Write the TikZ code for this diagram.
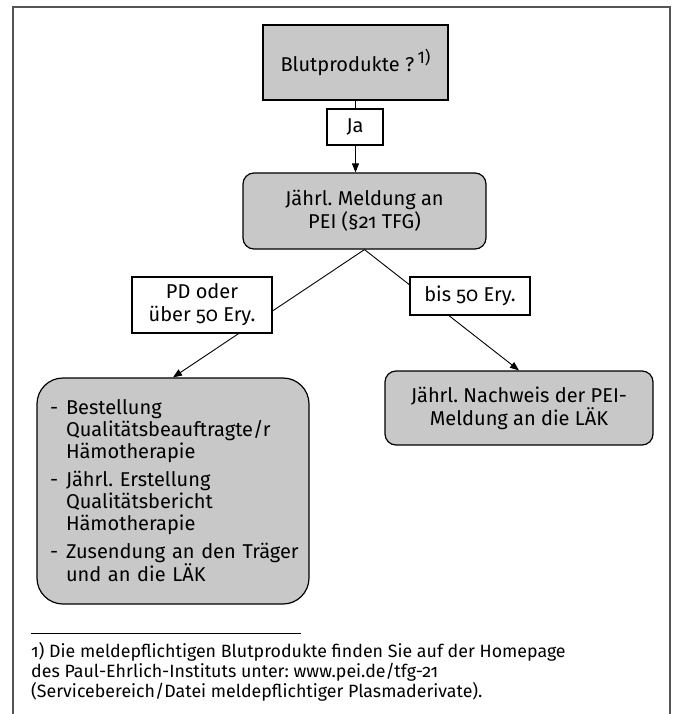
\documentclass[tikz,border=0pt]{standalone}
\usepackage{fontspec}
\setmainfont{Fira Sans}[Numbers=OldStyle]
\frenchspacing
\usetikzlibrary{arrows.meta}
\definecolor{kastengrau}{RGB}{200,200,200}
\definecolor{rahmengrau}{RGB}{85,85,85}
\newcommand{\strich}{\makebox[16pt][l]{-}}
\newcommand{\einzug}{\hspace*{16pt}}

\begin{document}
\begin{tikzpicture}[x=1pt,y=-1pt,
    kasten/.style={draw,fill=kastengrau,line width=1.2pt,align=center,inner sep=0pt,
                   font=\fontsize{20}{23}\selectfont},
    rundkasten/.style={kasten,rounded corners=11pt},
    marke/.style={draw,fill=white,line width=1.1pt,align=center,inner sep=0pt,
                  font=\fontsize{20}{23}\selectfont},
    pfeil/.style={-{Triangle[length=9pt,width=7pt]},line width=0.9pt}]
  \useasboundingbox (0,0) rectangle (676,714);
  \draw[rahmengrau,line width=2pt] (13,714) -- (13,7) -- (670,7) -- (670,714);

  \node[kasten,minimum width=185,minimum height=75] (blut) at (355.5,62.5)
    {Blutprodukte ?\,\raisebox{8pt}{\addfontfeature{Numbers=Lining}\fontsize{17}{17}\selectfont 1)}};
  \node[rundkasten,minimum width=243,minimum height=76] (meld) at (364.5,211)
    {Jährl. Meldung an\\PEI (§21 TFG)};
  \node[rundkasten,rounded corners=26pt,minimum width=272,minimum height=226,
        text width=246,align=left] (bestell) at (173,491)
    {\fontsize{20}{22}\selectfont
     \strich Bestellung\\
     \einzug Qualitätsbeauftragte/r\\
     \einzug Hämotherapie\\[6pt]
     \strich Jährl.~Erstellung\\
     \einzug Qualitätsbericht\\
     \einzug Hämotherapie\\[6pt]
     \strich Zusendung~an~den~Träger\\
     \einzug und an die LÄK};
  \node[rundkasten,minimum width=268,minimum height=74] (nachweis) at (519,408)
    {Jährl. Nachweis der PEI-\\Meldung an die LÄK};

  \draw[pfeil] (blut.south) -- (blut.south |- meld.north);
  \draw[pfeil] (meld.south) -- (bestell.north);
  \draw[pfeil] (meld.south) -- (nachweis.north);

  \node[marke,minimum width=56,minimum height=36] (ja) at (355,127) {Ja};
  \node[marke,minimum width=140,minimum height=56] (pd) at (202,305)
    {PD oder\\über 50 Ery.};
  \node[marke,minimum width=120,minimum height=38] (bis) at (470,296) {bis 50 Ery.};

  % Fussnote
  \draw[line width=0.8pt] (31,633) -- (301,633);
  \node[anchor=north west,inner sep=0pt,align=left,
        font=\fontsize{17.8}{20}\selectfont] (fussnote) at (31,642)
    {1) Die meldepflichtigen Blutprodukte finden Sie auf der Homepage\\
     des Paul-Ehrlich-Instituts unter: www.pei.de/tfg-21\\
     (Servicebereich/Datei meldepflichtiger Plasmaderivate).};
\end{tikzpicture}
\end{document}
